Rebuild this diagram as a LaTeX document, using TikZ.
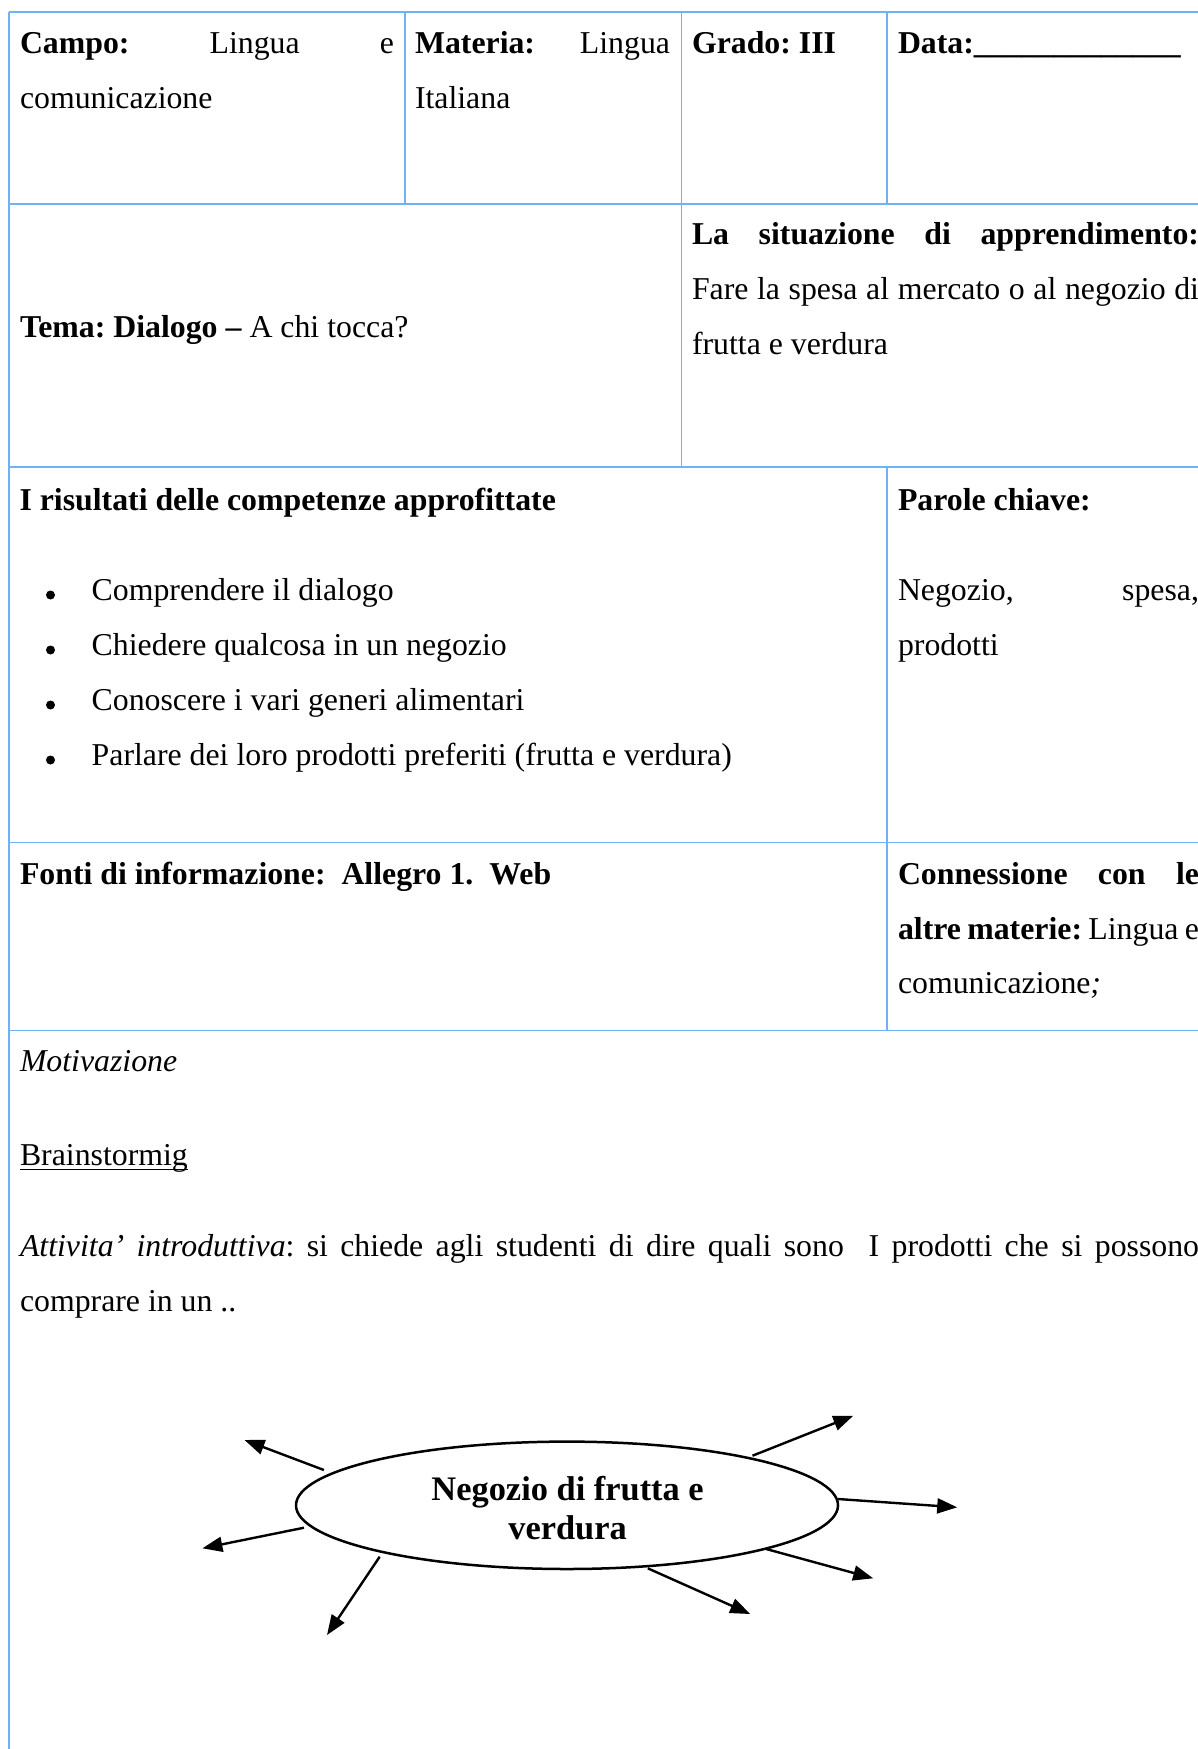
\documentclass[tikz,border=0pt]{standalone}
\usepackage{fontspec}
\setmainfont{Liberation Serif}
\usetikzlibrary{shapes.geometric,arrows.meta}
\definecolor{tbl}{RGB}{112,178,248}
\frenchspacing
\begin{document}
\begin{tikzpicture}[x=0.5pt,y=-0.5pt,
  txt/.style={anchor=base west,inner sep=0pt,outer sep=0pt,font=\fontsize{15.9pt}{27.5pt}\selectfont},
  grid/.style={draw=tbl,line width=0.9pt},
  arr/.style={line width=1.2pt,-{Triangle[length=10pt,width=7.5pt]}},
  dot/.style={circle,fill=black,inner sep=0pt,minimum size=4.5pt},
  elltxt/.style={anchor=base,inner sep=0pt,font=\bfseries\fontsize{17.2pt}{19.3pt}\selectfont}]
\useasboundingbox (0,0) rectangle (1198,1749);
\clip (0,0) rectangle (1198,1749);
% table grid
\draw[grid] (9,12.3) -- (1230,12.3);
\draw[grid] (9,204) -- (1230,204);
\draw[grid] (9,466.7) -- (1230,466.7);
\draw[grid] (9,842.5) -- (1230,842.5);
\draw[grid] (9,1030.5) -- (1230,1030.5);
\draw[grid] (9,12.3) -- (9,1760);
\draw[grid] (405,12.3) -- (405,204);
\draw[grid] (681.5,12.3) -- (681.5,466.7);
\draw[grid] (886.7,12.3) -- (886.7,204);
\draw[grid] (886.7,466.7) -- (886.7,1030.5);
% row 1
\node[txt] (campoA) at (20,54) {\makebox[187pt][s]{\textbf{Campo:} Lingua e}};
\node[txt] (campoB) at (20,109) {comunicazione};
\node[txt] (materiaA) at (415,54) {\makebox[127.5pt][s]{\textbf{Materia:} Lingua}};
\node[txt] (materiaB) at (415,109) {Italiana};
\node[txt] (grado) at (692,54) {\textbf{Grado: III}};
\node[txt] (data) at (898,54) {\textbf{Data:\_\_\_\_\_\_\_\_\_\_\_\_\_}};
% row 2
\node[txt] (tema) at (20,337) {\textbf{Tema: Dialogo –} A chi tocca?};
\node[txt] (sitA) at (692,245) {\makebox[253.5pt][s]{\textbf{La situazione di apprendimento:}}};
\node[txt] (sitB) at (692,300) {\makebox[253.5pt][s]{Fare la spesa al mercato o al negozio di}};
\node[txt] (sitC) at (692,355) {frutta e verdura};
% row 3
\node[txt] (ris) at (19.5,510) {\textbf{I risultati delle competenze approfittate}};
\node[dot] (b1) at (50.5,595) {};
\node[dot] (b2) at (50.5,650) {};
\node[dot] (b3) at (50.5,705) {};
\node[dot] (b4) at (50.5,760) {};
\node[txt] (r1) at (91.7,600) {Comprendere il dialogo};
\node[txt] (r2) at (91.7,655) {Chiedere qualcosa in un negozio};
\node[txt] (r3) at (91.7,710) {Conoscere i vari generi alimentari};
\node[txt] (r4) at (91.7,765) {Parlare dei loro prodotti preferiti (frutta e verdura)};
\node[txt] (parole) at (898,510) {\textbf{Parole chiave:}};
\node[txt] (parA) at (898,600) {\makebox[150.5pt][s]{Negozio, spesa,}};
\node[txt] (parB) at (898,655) {prodotti};
% row 4
\node[txt] (fonti) at (20,884) {\textbf{Fonti di informazione:\ \ Allegro 1.\ \ Web}};
\node[txt] (connA) at (898,884) {\makebox[150.5pt][s]{\textbf{Connessione con le}}};
\node[txt] (connB) at (898,939) {\makebox[150.5pt][s]{\textbf{altre materie:} Lingua e}};
\node[txt] (connC) at (898,993) {comunicazione\textit{;}};
% row 5
\node[txt] (motiv) at (20,1071.7) {\textit{Motivazione}};
\node[txt] (brain) at (20,1165) {Brainstormig};
\draw[line width=0.75pt] ([yshift=-2.2pt]brain.base west) -- ([yshift=-2.2pt]brain.base east);
\node[txt] (attA) at (20,1256.7) {\makebox[589.5pt][s]{\textit{Attivita’ introduttiva}: si chiede agli studenti di dire quali sono\ \ I prodotti che si possono}};
\node[txt] (attB) at (20,1311.7) {comprare in un ..};
% ellipse
\node[draw,ellipse,line width=1.25pt,minimum width=271pt,minimum height=63.7pt,inner sep=0pt] (ell) at (567,1505.3) {};
\node[elltxt] (eA) at (567.6,1500.7) {Negozio di frutta e};
\node[elltxt] (eB) at (567.6,1539.3) {verdura};
% arrows
\coordinate (t1) at (323.9,1470);  \coordinate (h1) at (244.5,1440);
\coordinate (t2) at (304,1527.7);  \coordinate (h2) at (202.4,1548.3);
\coordinate (t3) at (379.7,1556.7); \coordinate (h3) at (327,1635);
\coordinate (t4) at (752.5,1455.7); \coordinate (h4) at (853.3,1415.7);
\coordinate (t5) at (838,1499);    \coordinate (h5) at (957.2,1507.3);
\coordinate (t6) at (766.2,1549);  \coordinate (h6) at (873.2,1578.3);
\coordinate (t7) at (647.8,1568.3); \coordinate (h7) at (750.2,1614);
\foreach \i in {1,...,7} {\draw[arr] (t\i) -- (h\i);}
\end{tikzpicture}
\end{document}
